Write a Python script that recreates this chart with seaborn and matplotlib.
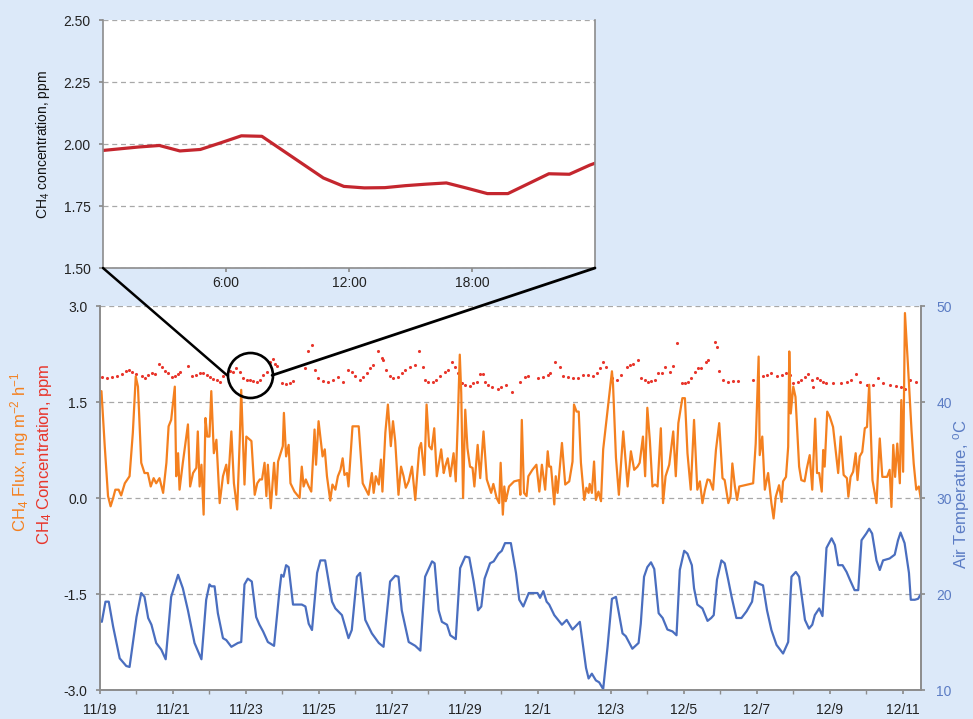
import numpy as np
import pandas as pd
import matplotlib
matplotlib.use("Agg")
import matplotlib.pyplot as plt
from matplotlib.lines import Line2D
import seaborn as sns

# ── Data ─────────────────────────────────────────────────────────────────────
# days since 11/19 00:00
date_ticks = [0, 2, 4, 6, 8, 10, 12, 14, 16, 18, 20, 22]
date_labels = ["11/19", "11/21", "11/23", "11/25", "11/27", "11/29",
               "12/1", "12/3", "12/5", "12/7", "12/9", "12/11"]

temp_day = [0.05, 0.15, 0.24, 0.36, 0.54, 0.72, 0.81, 1.00, 1.13, 1.22, 1.32, 1.41, 1.54, 1.68, 1.80,
            1.95, 2.14, 2.27, 2.41, 2.59, 2.78, 2.91, 3.00, 3.05, 3.14, 3.23, 3.37, 3.46, 3.60, 3.78,
            3.87, 3.96, 4.05, 4.16, 4.28, 4.37, 4.47, 4.60, 4.77, 4.92, 4.97, 5.03, 5.10, 5.17, 5.29,
            5.53, 5.63, 5.72, 5.81, 5.95, 6.04, 6.17, 6.36, 6.45, 6.63, 6.81, 6.90, 7.04, 7.13, 7.27,
            7.45, 7.64, 7.77, 7.95, 8.09, 8.18, 8.27, 8.46, 8.64, 8.78, 8.91, 9.10, 9.17, 9.28, 9.37,
            9.51, 9.60, 9.75, 9.87, 10.01, 10.12, 10.24, 10.36, 10.45, 10.54, 10.69, 10.79, 10.92, 11.01, 11.10,
            11.26, 11.40, 11.49, 11.60, 11.75, 11.99, 12.06, 12.15, 12.24, 12.31, 12.45, 12.66, 12.79, 12.95, 13.15,
            13.32, 13.39, 13.48, 13.59, 13.68, 13.79, 13.91, 14.03, 14.14, 14.32, 14.41, 14.59, 14.76, 14.82, 14.91,
            15.00, 15.10, 15.19, 15.31, 15.42, 15.55, 15.69, 15.80, 15.89, 16.01, 16.10, 16.22, 16.28, 16.37, 16.51,
            16.65, 16.75, 16.82, 16.91, 17.03, 17.12, 17.21, 17.31, 17.44, 17.58, 17.72, 17.87, 17.95, 18.04, 18.17,
            18.28, 18.40, 18.54, 18.72, 18.86, 18.95, 19.07, 19.16, 19.32, 19.43, 19.52, 19.59, 19.71, 19.80, 19.91,
            20.05, 20.14, 20.23, 20.35, 20.46, 20.55, 20.68, 20.78, 20.87, 21.00, 21.08, 21.16, 21.28, 21.37, 21.46,
            21.64, 21.78, 21.87, 21.94, 22.05, 22.17, 22.22, 22.33, 22.42, 22.51]
temp_val = [17.1, 19.2, 19.2, 16.6, 13.3, 12.5, 12.4, 17.6, 20.1, 19.7, 17.5, 16.8, 14.9, 14.2, 13.2,
            19.7, 22.0, 20.6, 18.3, 14.9, 13.2, 19.4, 21.0, 20.8, 20.8, 18.0, 15.4, 15.2, 14.5, 14.9,
            15.0, 21.0, 21.6, 21.3, 17.6, 16.8, 16.1, 15.0, 14.6, 20.4, 22.0, 21.8, 23.0, 22.8, 18.9,
            18.9, 18.7, 16.9, 16.25, 22.2, 23.5, 23.5, 19.2, 18.5, 17.8, 15.4, 16.25, 21.8, 22.2, 17.3,
            15.9, 14.9, 14.5, 21.3, 21.9, 21.8, 18.3, 15.0, 14.6, 14.1, 21.8, 23.4, 23.2, 18.3, 17.1,
            16.8, 15.7, 15.3, 22.7, 23.9, 23.8, 21.3, 18.3, 18.7, 21.6, 23.2, 23.4, 24.2, 24.5, 25.3,
            25.3, 22.2, 19.4, 18.7, 20.1, 20.1, 19.6, 20.3, 19.2, 18.9, 17.8, 16.8, 17.3, 16.3, 17.1,
            12.3, 11.2, 11.7, 11.0, 10.8, 10.1, 14.5, 19.5, 19.7, 15.9, 15.6, 14.3, 14.9, 16.9, 21.8,
            22.8, 23.3, 22.6, 18.0, 17.5, 16.3, 16.1, 15.7, 22.5, 24.5, 24.2, 23.0, 20.6, 18.9, 18.5,
            17.2, 17.5, 17.8, 21.5, 23.5, 23.2, 21.6, 19.7, 17.5, 17.5, 18.2, 19.2, 21.3, 21.1, 20.9,
            18.3, 16.25, 14.7, 13.8, 15.0, 21.8, 22.3, 21.8, 17.3, 16.4, 16.8, 17.8, 18.5, 17.7, 24.8,
            25.8, 25.1, 23.0, 23.0, 22.3, 21.5, 20.4, 20.4, 25.6, 26.3, 26.8, 26.3, 23.5, 22.5, 23.5,
            23.7, 24.1, 25.6, 26.4, 25.3, 22.2, 19.4, 19.4, 19.5, 20.1]

flux_day = [0.04, 0.13, 0.22, 0.29, 0.36, 0.42, 0.51, 0.58, 0.68, 0.81, 0.90, 0.98, 1.04, 1.13, 1.22,
            1.31, 1.39, 1.47, 1.54, 1.63, 1.73, 1.82, 1.88, 1.95, 2.05, 2.09, 2.14, 2.18, 2.27, 2.41,
            2.47, 2.55, 2.64, 2.68, 2.73, 2.78, 2.84, 2.89, 2.94, 3.00, 3.05, 3.12, 3.19, 3.28, 3.37,
            3.46, 3.51, 3.60, 3.67, 3.76, 3.83, 3.87, 3.96, 4.01, 4.15, 4.24, 4.31, 4.38, 4.44, 4.51,
            4.56, 4.60, 4.68, 4.77, 4.83, 4.88, 5.01, 5.04, 5.10, 5.17, 5.22, 5.33, 5.47, 5.53, 5.58,
            5.64, 5.72, 5.79, 5.88, 5.92, 5.99, 6.10, 6.16, 6.22, 6.31, 6.37, 6.45, 6.52, 6.59, 6.65,
            6.70, 6.77, 6.81, 6.92, 7.09, 7.20, 7.36, 7.45, 7.50, 7.56, 7.64, 7.70, 7.74, 7.82, 7.89,
            7.97, 8.03, 8.09, 8.18, 8.25, 8.32, 8.38, 8.46, 8.55, 8.64, 8.75, 8.80, 8.89, 8.95, 9.02,
            9.09, 9.16, 9.23, 9.35, 9.42, 9.46, 9.53, 9.60, 9.69, 9.75, 9.81, 9.86, 9.90, 9.95, 10.01,
            10.07, 10.14, 10.21, 10.26, 10.35, 10.42, 10.51, 10.60, 10.72, 10.78, 10.87, 10.94, 10.98, 11.04, 11.08,
            11.12, 11.21, 11.35, 11.49, 11.52, 11.56, 11.62, 11.69, 11.74, 11.85, 11.96, 12.04, 12.11, 12.20, 12.27,
            12.31, 12.36, 12.45, 12.49, 12.54, 12.66, 12.75, 12.86, 12.95, 12.99, 13.06, 13.12, 13.18, 13.27, 13.33,
            13.39, 13.42, 13.48, 13.54, 13.59, 13.66, 13.73, 13.79, 13.86, 13.95, 14.03, 14.06, 14.14, 14.22, 14.34,
            14.46, 14.55, 14.64, 14.73, 14.79, 14.88, 14.94, 15.00, 15.07, 15.14, 15.21, 15.28, 15.37, 15.43, 15.50,
            15.60, 15.71, 15.78, 15.85, 15.96, 16.03, 16.10, 16.19, 16.28, 16.37, 16.44, 16.51, 16.58, 16.65, 16.71,
            16.80, 16.88, 16.97, 17.06, 17.12, 17.22, 17.28, 17.33, 17.40, 17.46, 17.52, 17.90, 17.97, 18.05, 18.08,
            18.15, 18.22, 18.31, 18.40, 18.46, 18.52, 18.61, 18.68, 18.72, 18.80, 18.86, 18.89, 18.93, 19.00, 19.06,
            19.16, 19.22, 19.31, 19.37, 19.45, 19.52, 19.60, 19.65, 19.71, 19.78, 19.82, 19.86, 19.93, 20.00, 20.09,
            20.16, 20.23, 20.30, 20.38, 20.47, 20.51, 20.57, 20.64, 20.71, 20.76, 20.82, 20.89, 20.96, 21.02, 21.08,
            21.17, 21.28, 21.37, 21.44, 21.57, 21.64, 21.69, 21.74, 21.79, 21.85, 21.92, 21.96, 22.01, 22.06, 22.14,
            22.24, 22.30, 22.37, 22.44, 22.50]
flux_val = [1.67, 0.81, 0.03, -0.13, 0.00, 0.13, 0.13, 0.04, 0.23, 0.34, 1.02, 1.90, 1.74, 0.55, 0.39,
            0.39, 0.18, 0.31, 0.23, 0.31, 0.08, 0.55, 1.12, 1.22, 1.74, 0.34, 0.70, 0.13, 0.55, 1.15,
            0.18, 0.39, 0.47, 1.04, 0.18, 0.52, -0.26, 1.25, 0.96, 0.96, 1.67, 0.70, 0.91, -0.08, 0.34,
            0.52, 0.23, 1.04, 0.23, -0.18, 0.91, 1.69, 0.21, 0.96, 0.89, 0.05, 0.23, 0.29, 0.29, 0.55,
            0.03, 0.52, -0.16, 0.55, 0.05, 0.57, 0.81, 1.33, 0.65, 0.83, 0.23, 0.10, 0.00, 0.49, 0.18,
            0.29, 0.18, 0.10, 1.07, 0.52, 1.20, 0.65, 0.76, 0.34, -0.04, 0.21, 0.13, 0.34, 0.44, 0.62,
            0.36, 0.39, 0.18, 1.12, 1.12, 0.23, 0.05, 0.39, 0.08, 0.34, 0.21, 0.60, 0.10, 1.02, 1.46,
            0.81, 1.20, 0.89, 0.05, 0.49, 0.34, 0.16, 0.26, 0.49, -0.03, 0.78, 0.86, 0.36, 1.46, 0.81,
            0.76, 1.09, 0.34, 0.76, 0.39, 0.49, 0.62, 0.34, 0.70, 0.26, 1.28, 2.24, 1.64, 0.00, 1.38,
            0.78, 0.49, 0.47, 0.18, 0.83, 0.31, 1.04, 0.29, 0.08, 0.22, 0.00, -0.08, 0.55, -0.26, 0.18,
            -0.05, 0.18, 0.26, 0.28, 0.05, 1.22, 0.08, 0.03, 0.34, 0.44, 0.52, 0.10, 0.52, 0.13, 0.73,
            0.49, 0.49, -0.10, 0.34, 0.08, 0.86, 0.21, 0.26, 0.57, 1.46, 1.35, 1.35, 0.55, -0.03, 0.16,
            0.08, 0.22, 0.08, 0.57, -0.03, 0.10, -0.05, 0.76, 1.12, 1.59, 1.98, 1.77, 0.63, 0.05, 1.04,
            0.18, 0.73, 0.44, 0.49, 0.55, 0.96, 0.34, 1.41, 0.89, 0.18, 0.21, 0.18, 1.09, -0.08, 0.34,
            0.52, 1.04, 0.34, 1.17, 1.56, 1.56, 0.70, 0.13, 1.22, 0.13, 0.26, -0.08, 0.13, 0.29, 0.28,
            0.13, 0.75, 1.17, 0.31, 0.28, -0.08, 0.02, 0.54, 0.18, -0.03, 0.18, 0.23, 0.85, 2.21, 0.67,
            0.96, 0.13, 0.39, -0.08, -0.32, 0.02, 0.20, -0.06, 0.26, 0.33, 0.80, 2.29, 1.32, 1.74, 1.58,
            0.49, 0.28, 0.26, 0.46, 0.67, 0.13, 1.24, 0.39, 0.39, 0.10, 0.75, 0.49, 1.35, 1.27, 1.11,
            0.75, 0.39, 0.96, 0.36, 0.31, 0.02, 0.33, 0.41, 0.70, 0.28, 0.65, 0.72, 1.09, 1.11, 1.77,
            0.28, -0.08, 0.93, 0.33, 0.33, 0.44, -0.14, 0.83, 0.33, 0.85, 0.23, 1.53, 0.41, 2.89, 2.10,
            1.06, 0.54, 0.13, 0.18, -0.03]

conc_day = [0.05, 0.18, 0.32, 0.46, 0.59, 0.71, 0.80, 0.87, 1.00, 1.14, 1.23, 1.32, 1.42, 1.51, 1.63,
            1.69, 1.78, 1.87, 1.96, 2.05, 2.15, 2.19, 2.42, 2.51, 2.63, 2.74, 2.83, 2.92, 3.01, 3.10,
            3.20, 3.29, 3.38, 3.56, 3.65, 3.74, 3.84, 3.93, 4.02, 4.11, 4.20, 4.29, 4.38, 4.47, 4.57,
            4.66, 4.73, 4.79, 4.84, 4.98, 5.11, 5.21, 5.30, 5.62, 5.71, 5.80, 5.89, 5.98, 6.12, 6.25,
            6.39, 6.53, 6.67, 6.80, 6.90, 6.99, 7.12, 7.21, 7.31, 7.40, 7.49, 7.63, 7.72, 7.76, 7.85,
            7.95, 8.04, 8.17, 8.27, 8.36, 8.49, 8.63, 8.75, 8.86, 8.90, 8.99, 9.13, 9.22, 9.32, 9.45,
            9.54, 9.66, 9.73, 9.82, 9.91, 10.00, 10.14, 10.23, 10.32, 10.41, 10.50, 10.55, 10.64, 10.73, 10.91,
            11.00, 11.14, 11.28, 11.51, 11.64, 11.73, 12.01, 12.15, 12.28, 12.33, 12.47, 12.60, 12.69, 12.83, 12.97,
            13.10, 13.24, 13.38, 13.52, 13.61, 13.70, 13.79, 13.88, 14.02, 14.16, 14.29, 14.43, 14.52, 14.61, 14.75,
            14.84, 14.93, 15.02, 15.11, 15.21, 15.30, 15.39, 15.48, 15.62, 15.71, 15.80, 15.94, 16.03, 16.12, 16.21,
            16.30, 16.39, 16.48, 16.62, 16.67, 16.85, 16.90, 16.97, 17.08, 17.21, 17.35, 17.49, 17.90, 18.04, 18.17,
            18.27, 18.40, 18.54, 18.68, 18.81, 18.90, 18.99, 19.13, 19.22, 19.32, 19.41, 19.50, 19.54, 19.64, 19.73,
            19.82, 19.91, 20.09, 20.32, 20.46, 20.59, 20.73, 20.82, 21.01, 21.19, 21.32, 21.46, 21.64, 21.82, 21.96,
            22.05, 22.19, 22.37]
conc_val = [1.885, 1.87, 1.885, 1.905, 1.94, 1.98, 2.00, 1.97, 1.94, 1.90, 1.87, 1.92, 1.95, 1.94, 2.09,
            2.04, 1.98, 1.95, 1.885, 1.90, 1.93, 1.97, 2.06, 1.90, 1.92, 1.95, 1.96, 1.92, 1.885, 1.86,
            1.84, 1.82, 1.905, 1.99, 1.97, 2.03, 1.97, 1.87, 1.84, 1.84, 1.83, 1.82, 1.84, 1.92, 1.97,
            2.13, 2.17, 2.10, 2.06, 1.79, 1.78, 1.79, 1.83, 2.03, 2.29, 2.39, 2.00, 1.87, 1.83, 1.82,
            1.85, 1.885, 1.82, 2.00, 1.97, 1.90, 1.85, 1.885, 1.95, 2.03, 2.08, 2.29, 2.18, 2.16, 2.00,
            1.90, 1.87, 1.885, 1.95, 2.00, 2.05, 2.08, 2.29, 2.05, 1.84, 1.82, 1.82, 1.84, 1.90, 1.97,
            2.00, 2.13, 2.05, 1.95, 1.79, 1.77, 1.75, 1.79, 1.82, 1.94, 1.94, 1.82, 1.77, 1.74, 1.70,
            1.74, 1.77, 1.66, 1.82, 1.885, 1.90, 1.87, 1.885, 1.92, 1.96, 2.13, 2.05, 1.90, 1.885, 1.87,
            1.87, 1.92, 1.92, 1.90, 1.96, 2.03, 2.13, 2.05, 1.87, 1.85, 1.92, 2.05, 2.08, 2.09, 2.15,
            1.87, 1.84, 1.82, 1.83, 1.85, 1.96, 1.96, 2.05, 1.97, 2.06, 2.42, 1.79, 1.80, 1.82, 1.87,
            1.97, 2.03, 2.03, 2.13, 2.16, 2.44, 2.36, 1.99, 1.84, 1.82, 1.83, 1.83, 1.84, 1.885, 1.90,
            1.92, 1.96, 1.905, 1.92, 1.95, 1.92, 1.80, 1.82, 1.84, 1.885, 1.94, 1.85, 1.73, 1.87, 1.84,
            1.82, 1.79, 1.79, 1.79, 1.82, 1.85, 1.94, 1.82, 1.77, 1.77, 1.87, 1.79, 1.77, 1.75, 1.73,
            1.71, 1.84, 1.82]

# inset: one day of hourly CH4 concentration (11/23)
inset_hour = [-0.25, 0.75, 1.75, 2.75, 3.75, 4.75, 5.75, 6.75, 7.75, 8.75, 9.75, 10.75, 11.75,
              12.75, 13.75, 14.75, 15.75, 16.75, 17.75, 18.75, 19.75, 20.75, 21.75, 22.75, 23.75, 24.75]
inset_ppm = [1.972, 1.980, 1.988, 1.994, 1.972, 1.978, 2.005, 2.033, 2.031, 1.975, 1.919, 1.863, 1.829,
             1.823, 1.824, 1.832, 1.838, 1.843, 1.822, 1.800, 1.800, 1.840, 1.880, 1.878, 1.915, 1.945]
inset_ticks = [6, 12, 18]
inset_tick_labels = ["6:00", "12:00", "18:00"]

zoom_day, zoom_ppm = 4.10, 1.917

# ── Style ───────────────────────────────────────────────────────────────────
ORANGE = "#f4801f"
RED = "#e8352b"
BLUE = "#4a6ebf"
BLUE_TXT = "#5b7cc4"
DARKRED = "#c4262e"
GREY = "#8c8c8c"
GRID = "#a8a8a8"
BG = "#dce9f9"

sns.set_theme(style="white")
plt.rcParams["font.family"] = ["Liberation Sans", "DejaVu Sans"]
plt.rcParams["mathtext.default"] = "regular"

W, H = 973, 719
fig = plt.figure(figsize=(W / 100, H / 100), dpi=100, facecolor=BG)

# ── Main panel ──────────────────────────────────────────────────────────────
ax = fig.add_axes([100 / W, 1 - 690 / H, 821 / W, 384 / H])
ax2 = ax.twinx()

flux_df = pd.DataFrame({"day": flux_day, "flux": flux_val})
conc_df = pd.DataFrame({"day": conc_day, "conc": conc_val})
temp_df = pd.DataFrame({"day": temp_day, "temp": temp_val})

sns.lineplot(data=flux_df, x="day", y="flux", ax=ax, color=ORANGE, lw=1.6, estimator=None)
sns.scatterplot(data=conc_df, x="day", y="conc", ax=ax, color=RED, s=5, linewidth=0)
sns.lineplot(data=temp_df, x="day", y="temp", ax=ax2, color=BLUE, lw=1.6, estimator=None)

ax.set_xlim(0, 22.5)
ax.set_ylim(-3.0, 3.0)
ax2.set_ylim(10, 50)
ax.set_yticks([-3.0, -1.5, 0.0, 1.5, 3.0])
ax.set_yticklabels(["-3.0", "-1.5", "0.0", "1.5", "3.0"])
ax2.set_yticks([10, 20, 30, 40, 50])
ax.set_xticks(date_ticks)
ax.set_xticklabels(date_labels)
ax.set_xticks(np.arange(0, 23, 1), minor=True)
for a in (ax, ax2):
    a.set_xlabel("")
    a.set_ylabel("")

ax.yaxis.grid(True, linestyle=(0, (4, 3)), color=GRID, lw=0.9)
ax.xaxis.grid(False)
ax.set_facecolor("white")
for name, sp in ax.spines.items():
    sp.set_color(GREY)
    sp.set_linewidth(1.2)
for name, sp in ax2.spines.items():
    sp.set_color(GREY)
    sp.set_linewidth(1.2)
ax.spines["top"].set_visible(False)
ax2.spines["top"].set_visible(False)

ax.tick_params(axis="x", which="both", bottom=True, direction="out", length=3,
               color=GREY, labelsize=10, pad=6, labelcolor="#222222")
ax.tick_params(axis="y", left=True, direction="out", length=3, color=GREY,
               labelsize=10, pad=6, labelcolor="#222222")
ax2.tick_params(axis="y", right=True, direction="out", length=3, color=GREY,
                labelsize=10, pad=8, labelcolor=BLUE_TXT)

# zoom circle
ax.plot([zoom_day], [zoom_ppm], marker="o", ms=32.4, mfc="none", mec="black",
        mew=1.9, clip_on=False, zorder=5)

# axis titles
fig.text(20 / W, 1 - 452 / H, r"CH$_4$ Flux, mg m$^{-2}$ h$^{-1}$", color=ORANGE,
         rotation=90, ha="center", va="center", fontsize=12)
fig.text(45 / W, 1 - 454 / H, r"CH$_4$ Concentration, ppm", color=RED,
         rotation=90, ha="center", va="center", fontsize=12)
fig.text(962 / W, 1 - 494 / H, r"Air Temperature, $^{o}$C", color=BLUE_TXT,
         rotation=90, ha="center", va="center", fontsize=12)

# ── Inset: one day of concentration ─────────────────────────────────────────
ins = fig.add_axes([103 / W, 1 - 268 / H, 492 / W, 248 / H])
inset_df = pd.DataFrame({"hour": inset_hour, "ppm": inset_ppm})
sns.lineplot(data=inset_df, x="hour", y="ppm", ax=ins, color=DARKRED, lw=2.3, estimator=None)
ins.set_xlim(0, 24)
ins.set_ylim(1.5, 2.5)
ins.set_yticks([1.50, 1.75, 2.00, 2.25, 2.50])
ins.set_yticklabels(["1.50", "1.75", "2.00", "2.25", "2.50"])
ins.set_xticks(inset_ticks)
ins.set_xticklabels(inset_tick_labels)
ins.set_xlabel("")
ins.set_ylabel(r"CH$_4$ concentration, ppm", fontsize=10, color="#111111", labelpad=8)
ins.set_facecolor("white")
ins.yaxis.grid(True, linestyle=(0, (4, 3)), color=GRID, lw=0.9)
ins.xaxis.grid(False)
for name, sp in ins.spines.items():
    sp.set_color(GREY)
    sp.set_linewidth(1.2)
ins.spines["top"].set_visible(False)
ins.tick_params(axis="x", bottom=True, direction="out", length=3, color=GREY,
                labelsize=10, pad=3, labelcolor="#222222")
ins.tick_params(axis="y", left=True, direction="out", length=3, color=GREY,
                labelsize=10, pad=6, labelcolor="#222222")

# ── Connector lines from the inset to the circle ────────────────────────────
to_fig = fig.transFigure.inverted()
cx, cy = ax.transData.transform((zoom_day, zoom_ppm))
r = 32.4 / 72 * fig.dpi / 2
left_pt = to_fig.transform((cx - r, cy))
right_pt = to_fig.transform((cx + r, cy))
bl = to_fig.transform(ins.transAxes.transform((0, 0)))
br = to_fig.transform(ins.transAxes.transform((1, 0)))
fig.add_artist(Line2D([bl[0], left_pt[0]], [bl[1], left_pt[1]], transform=fig.transFigure,
                      color="black", lw=1.8, zorder=10))
fig.add_artist(Line2D([right_pt[0], br[0]], [right_pt[1], br[1]], transform=fig.transFigure,
                      color="black", lw=2.0, zorder=10))

fig.savefig("out.png", dpi=100, facecolor=BG)
